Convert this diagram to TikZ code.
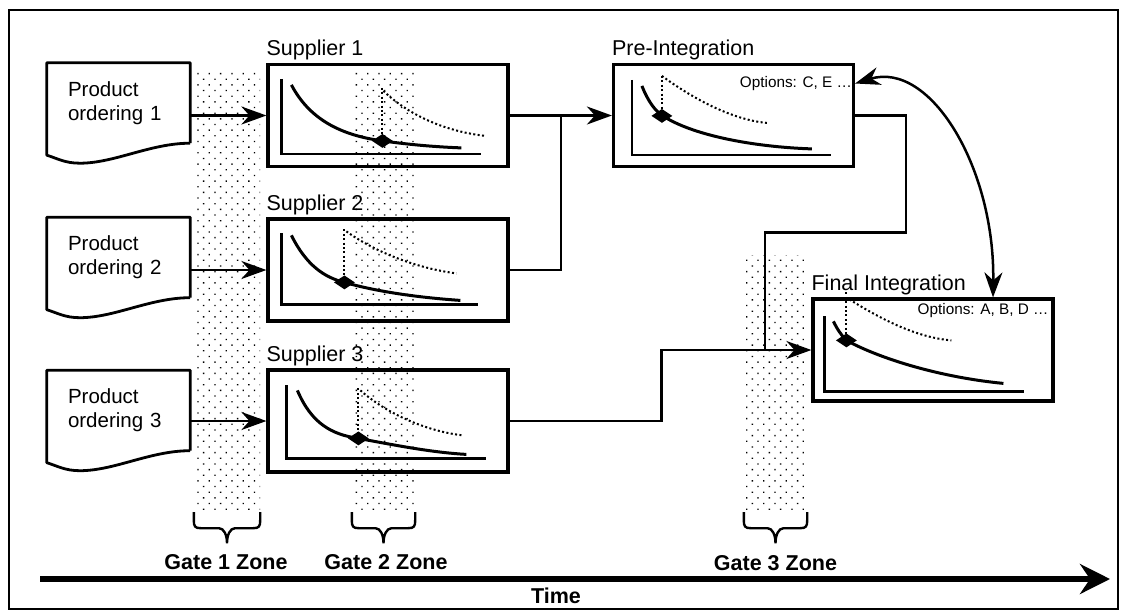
\documentclass[tikz,border=0pt]{standalone}
\usepackage{fontspec}
\setmainfont{Liberation Sans}
\usetikzlibrary{arrows.meta, positioning, calc, shapes.geometric, patterns.meta}

\begin{document}
\begin{tikzpicture}[
        x=1pt, y=-1pt,
        doc/.style={minimum width=143pt, minimum height=80pt, inner sep=0pt, text width=101pt, align=left, font=\fontsize{20.5}{24}\selectfont},
        docline/.style={line width=2.8pt, line join=round},
        panel/.style={draw, line width=3.2pt, minimum width=240pt, minimum height=102pt, inner sep=0pt},
        title/.style={anchor=base west, inner sep=0pt, font=\fontsize{21.5}{24}\selectfont},
        opts/.style={anchor=base east, inner sep=0pt, font=\fontsize{15.3}{18}\selectfont},
        zone/.style={pattern={Dots[angle=45, distance=8pt, radius=0.95pt]}, inner sep=0pt},
        bracket/.style={line width=2.4pt},
        gatelabel/.style={font=\bfseries\fontsize{21.5}{24}\selectfont},
        link/.style={line width=2.5pt},
        axes/.style={line width=2.4pt},
        cost/.style={line width=3pt},
        target/.style={line width=2pt, dash pattern=on 2pt off 2.4pt},
        marker/.style={diamond, fill, aspect=1.5, inner sep=0pt, minimum width=21pt, minimum height=14pt},
        >={Stealth[length=25pt, width=18pt, inset=8pt]}
    ]
    \useasboundingbox (0,0) rectangle (1125,611);

    % gate zones
    \node[zone, minimum width=66pt, minimum height=442pt] (gz1) at (227,291) {};
    \node[zone, minimum width=63pt, minimum height=442pt] (gz2) at (383.5,291) {};
    \node[zone, minimum width=63pt, minimum height=257pt] (gz3) at (775.5,383.5) {};

    \foreach \z in {gz1, gz2, gz3}
        \draw[bracket] (\z.south west) -- ++(0,8)
            .. controls +(0,6) and +(-6,0) .. ++(7,8)
            -- ($(\z.south)+(-8,16)$)
            .. controls +(5,0) and +(0,-8) .. ($(\z.south)+(0,31)$)
            .. controls +(0,-8) and +(-5,0) .. ($(\z.south)+(8,16)$)
            -- ($(\z.south east)+(-7,16)$)
            .. controls +(6,0) and +(0,6) .. ($(\z.south east)+(0,8)$)
            -- (\z.south east);

    \node[gatelabel] (g1) at ($(gz1.south)+(-1,50)$) {Gate 1 Zone};
    \node[gatelabel] (g2) at ($(gz2.south)+(2.5,50)$) {Gate 2 Zone};
    \node[gatelabel] (g3) at ($(gz3.south)+(0,51)$) {Gate 3 Zone};

    % product orderings
    \foreach \i/\y in {1/103, 2/257.5, 3/410.5}
        \node[doc] (po\i) at (118.5,\y) {Product\\ordering \i};
    \foreach \i in {1,2,3}
        \draw[docline] (po\i.south east) -- (po\i.north east) -- (po\i.north west)
            -- ($(po\i.south west)+(0,12)$)
            .. controls +(10,3) and +(-15,0) .. ($(po\i.south west)+(33,20)$)
            .. controls +(35,0) and +(-40,0) .. (po\i.south east);

    % stages
    \node[panel] (s1) at (388,115.5) {};
    \node[panel] (s2) at (388,270) {};
    \node[panel] (s3) at (388,421) {};
    \node[panel] (pre) at (733.5,115.5) {};
    \node[panel] (fin) at (933,350) {};

    \foreach \n/\t in {s1/Supplier 1, s2/Supplier 2, s3/Supplier 3, pre/Pre-Integration, fin/Final Integration}
        \node[title] (\n-label) at ([yshift=7pt]\n.north west) {\t};

    \node[opts] (pre-opt) at ([xshift=-3pt,yshift=-25pt]pre.north east) {Options: C, E \ldots};
    \node[opts] (fin-opt) at ([xshift=-6pt,yshift=-17pt]fin.north east) {Options: A, B, D \ldots};

    \begin{scope}[shift={(s1.north west)}]
        \draw[axes] (15,16) -- (15,91) -- (215,91);
        \draw[cost] (25,22) .. controls (45,60) and (80,73) .. (116,78) .. controls (145,82) and (170,84) .. (195,85);
        \draw[target] (116,25) -- (116,78);
        \draw[target] (117,28) .. controls (140,50) and (175,68) .. (219,73);
        \node[marker] (m1) at (116,78) {};
    \end{scope}
    \begin{scope}[shift={(s2.north west)}]
        \draw[axes] (15,16) -- (15,87) -- (212,87);
        \draw[cost] (25,18) .. controls (40,48) and (58,60) .. (78,65) .. controls (110,74) and (150,80) .. (194,83);
        \draw[target] (78,12) -- (78,65);
        \draw[target] (80,14) .. controls (105,32) and (145,50) .. (190,56);
        \node[marker] (m2) at (78,65) {};
    \end{scope}
    \begin{scope}[shift={(s3.north west)}]
        \draw[axes] (20,17) -- (20,90) -- (220,90);
        \draw[cost] (31,22) .. controls (45,55) and (65,66) .. (92,70) .. controls (130,77) and (165,84) .. (200,86);
        \draw[target] (92,20) -- (92,70);
        \draw[target] (94,22) .. controls (120,45) and (160,63) .. (197,67);
        \node[marker] (m3) at (92,70) {};
    \end{scope}
    \begin{scope}[shift={(pre.north west)}]
        \draw[axes] (20,17) -- (20,92) -- (219,92);
        \draw[cost] (30,23) .. controls (36,38) and (43,48) .. (51,53) .. controls (80,72) and (140,84) .. (200,86);
        \draw[target] (50,13) -- (50,53);
        \draw[target] (50,13) .. controls (80,35) and (120,57) .. (155,60);
        \node[marker] (m4) at (50,53) {};
    \end{scope}
    \begin{scope}[shift={(fin.north west)}]
        \draw[axes] (13,19) -- (13,94) -- (213,94);
        \draw[cost] (22,24) .. controls (26,32) and (30,38) .. (35,43) .. controls (70,62) and (130,80) .. (192,86);
        \draw[target] (35,-5) -- (35,43);
        \draw[target] (38,2) .. controls (70,22) and (105,40) .. (140,43);
        \node[marker] (m5) at (35,43) {};
    \end{scope}

    % connectors
    \foreach \i in {1,2,3}
        \draw[link,->] (po\i.east |- s\i.west) -- (s\i.west);
    \coordinate (j1) at (561,115.5);
    \coordinate (j2) at (765,350);
    \draw[link,->] (s1.east) -- (pre.west);
    \draw[link] (s2.east) -| (j1);
    \draw[link,->] (s3.east) -- ++(152,0) |- (fin.west);
    \draw[link] (pre.east) -- ++(51,0) -- ++(0,117) -| (j2);
    \draw[link,<->] ([yshift=32pt]pre.east) .. controls +(75,-23) and +(2,-130) .. ([xshift=60pt]fin.north);

    % time axis
    \coordinate (t0) at (40,579);
    \coordinate (t1) at (1110,579);
    \draw[line width=5.5pt, -{Stealth[length=30pt, width=30pt, inset=10pt]}] (t0) -- (t1);
    \node[gatelabel] (time) at (556,596) {Time};

    \draw[line width=2.4pt] (9,10) rectangle (1118,609);
\end{tikzpicture}
\end{document}
